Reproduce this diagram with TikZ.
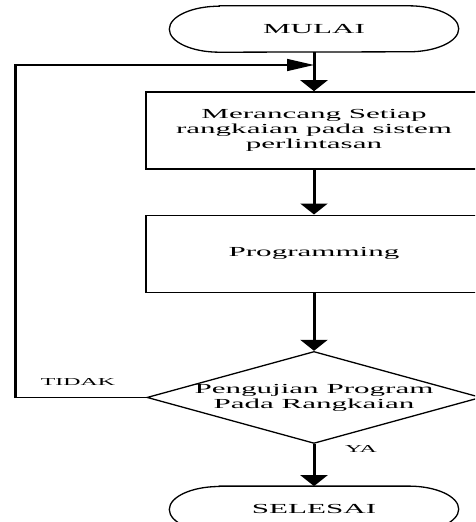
\documentclass[tikz,border=0pt]{standalone}
\usepackage{fontspec}
\usetikzlibrary{arrows.meta,positioning,shapes.geometric}
\newfontfamily\flowfont{Liberation Serif}[FakeStretch=2.25]
\newcommand{\flowtext}{\flowfont\fontsize{13.8}{15}\selectfont}
\newcommand{\flowsmall}{\flowfont\fontsize{10.6}{12}\selectfont}

\begin{document}
\begin{tikzpicture}[
      x=1pt,y=1pt,
      term/.style={minimum width=289pt,minimum height=46pt,inner sep=0pt,font=\flowtext},
      procbox/.style={draw,line width=1.3pt,minimum width=336pt,minimum height=77pt,
        inner sep=0pt,align=center,font=\flowtext},
      decision/.style={draw,diamond,line width=1.3pt,minimum width=334pt,
        minimum height=92pt,inner sep=0pt},
      flow/.style={line width=3pt,-{Triangle[length=11pt,width=27pt]}},
      loopline/.style={line width=1.5pt},
      lbl/.style={font=\flowsmall,inner sep=0pt}
    ]
      \clip (0,0) rectangle (475,-522);
      \fill[white] (0,0) rectangle (475,-522);
      \node[term] (mulai) at (314,-29) {MULAI};
      \node[procbox,below=39pt of mulai] (rancang) {Merancang Setiap\\rangkaian pada sistem\\perlintasan};
      \node[procbox,below=45pt of rancang] (program) {Programming};
      \node[decision,below=58pt of program] (uji) {};
      \node[align=center,font=\flowtext] (ujitext) at (uji) {Pengujian Program\\Pada Rangkaian};
      \node[term,below=42pt of uji] (selesai) {SELESAI};
      % terminal outlines with elliptic ends
      \foreach \t in {mulai,selesai}
        \draw[line width=1.3pt] ([xshift=50pt]\t.north west) -- ([xshift=-50pt]\t.north east)
          arc[start angle=90,end angle=-90,x radius=50pt,y radius=23pt]
          -- ([xshift=50pt]\t.south west)
          arc[start angle=270,end angle=90,x radius=50pt,y radius=23pt] -- cycle;
      \coordinate (join) at (314,-65);
      \coordinate (tl) at (15,-65);
      \coordinate (bl) at (tl |- uji.west);
      \draw[flow] (mulai)--(rancang);
      \draw[flow] (rancang)--(program);
      \draw[flow] (program)--(uji);
      \draw[flow] (uji)--(selesai);
      % loop back when the test fails
      \draw[loopline] (uji.west)--(bl);
      \draw[line width=3pt] ([yshift=-.75pt]bl)--([yshift=.75pt]tl);
      \draw[loopline,-{Triangle[length=27pt,width=12pt]}] (tl)--(join);
      \node[lbl] (tidak) at (78,-382) {TIDAK};
      \node[lbl] (ya) at (361,-449) {YA};
    \end{tikzpicture}
\end{document}
